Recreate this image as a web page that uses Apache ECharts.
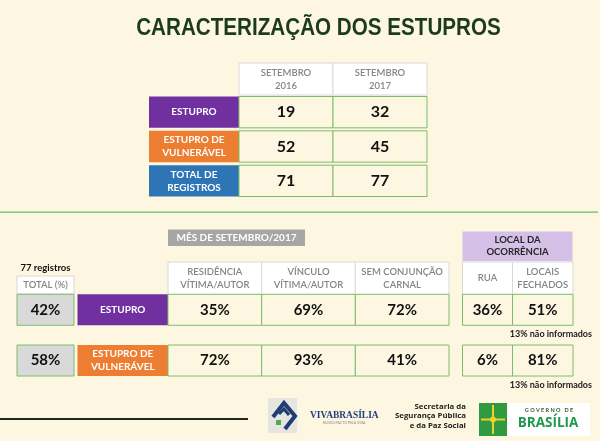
<!DOCTYPE html>
<html><head><meta charset="utf-8">
<script src="https://cdn.jsdelivr.net/npm/echarts@6/dist/echarts.min.js"></script>
<style>html,body{margin:0;padding:0;background:#fdf6e1}#c{width:600px;height:441px}</style>
</head><body><div id="c"></div>
<script>
// ---------- data ----------
const chartTitle = 'CARACTERIZAÇÃO DOS ESTUPROS';
const periodLabels = ['SETEMBRO\n2016', 'SETEMBRO\n2017'];
const crimeTypes = ['ESTUPRO', 'ESTUPRO DE\nVULNERÁVEL'];
const totalRowLabel = 'TOTAL DE\nREGISTROS';
const sep2016 = [19, 52, 71];
const sep2017 = [32, 45, 77];
const monthLabel = 'MÊS DE SETEMBRO/2017';
const totalRecords = 77;
const totalHeader = 'TOTAL (%)';
const totalShare = [42, 58];
const contextLabels = ['RESIDÊNCIA\nVÍTIMA/AUTOR', 'VÍNCULO\nVÍTIMA/AUTOR', 'SEM CONJUNÇÃO\nCARNAL'];
const residencia = [35, 72];
const vinculo = [69, 93];
const semConjuncao = [72, 41];
const localLabel = 'LOCAL DA\nOCORRÊNCIA';
const placeLabels = ['RUA', 'LOCAIS\nFECHADOS'];
const rua = [36, 6];
const locaisFechados = [51, 81];
const naoInformados = [13, 13];

// ---------- styles ----------
const BG = '#fdf6e1';
const GREEN = '#7dbd6a';
const rowColors = ['#7030a0', '#ed7d31', '#2e75b6'];
const FONT = 'Lato, "Open Sans", sans-serif';

const headStyle = {fill: '#ffffff', stroke: '#d9d9d9', color: '#858585', font: '600 9.5px ' + FONT, lh: 13, gapX: 0, gapY: 0};
const labelStyle = {fill: rowColors, stroke: null, color: '#ffffff', font: 'bold 10px ' + FONT, lh: 13, gapX: 0, gapY: 3};
const valueStyle = {fill: BG, stroke: GREEN, color: '#111111', font: 'bold 16px ' + FONT, lh: 18, gapX: 0, gapY: 3};

const grids = [], xAxes = [], yAxes = [], series = [];

function makeRender(st, texts) {
  return function (params, api) {
    const r = api.value(1);
    const p = api.coord([api.value(0), r]);
    const s = api.size([1, 1]);
    const w = s[0] - st.gapX, h = s[1] - st.gapY;
    const x = p[0] - w / 2, y = p[1] - h / 2;
    const fill = Array.isArray(st.fill) ? st.fill[r] : st.fill;
    const children = [
      {type: 'rect', shape: {x: x, y: y, width: w, height: h},
        style: {fill: fill, stroke: st.stroke || null, lineWidth: st.stroke ? 1 : 0}},
      {type: 'text', style: {text: String(texts[params.dataIndex]), x: p[0], y: p[1],
        align: 'center', verticalAlign: 'middle', textAlign: 'center', textVerticalAlign: 'middle',
        font: st.font, fill: st.color, lineHeight: st.lh}}
    ];
    if (st.note) {
      children.push({type: 'text', style: {text: st.note[params.dataIndex], x: x + w + 19, y: y + h + 9,
        align: 'right', verticalAlign: 'middle', textAlign: 'right', textVerticalAlign: 'middle',
        font: 'bold 9px ' + FONT, fill: '#222222'}});
    }
    return {type: 'group', children: children};
  };
}

function table(box, cols, rows, cells, st) {
  const gi = grids.length;
  grids.push({left: box[0], top: box[1], width: box[2], height: box[3], containLabel: false, show: false});
  xAxes.push({type: 'category', gridIndex: gi, data: cols, show: false});
  yAxes.push({type: 'category', gridIndex: gi, data: rows, inverse: true, show: false});
  series.push({type: 'custom', xAxisIndex: gi, yAxisIndex: gi, silent: true, clip: false,
    data: cells.map(c => [c[0], c[1]]), renderItem: makeRender(st, cells.map(c => c[2]))});
}

// ---------- top table ----------
const topRows = crimeTypes.concat([totalRowLabel]);
table([239, 63, 188, 32], periodLabels, ['h'], periodLabels.map((t, i) => [i, 0, t]), headStyle);
table([149, 95, 90, 103], ['l'], topRows, topRows.map((t, i) => [0, i, t]), labelStyle);
const topCells = [];
topRows.forEach((_, r) => { topCells.push([0, r, sep2016[r]]); topCells.push([1, r, sep2017[r]]); });
table([239, 95, 188, 103], periodLabels, topRows, topCells, valueStyle);

// ---------- bottom table ----------
const bTop = 284.4, bH = 101.5, bGap = 19.75;
const pct = v => v + '%';
table([17, 276, 57, 18], [totalHeader], ['h'], [[0, 0, totalHeader]], headStyle);
table([17, bTop, 57, bH], ['t'], crimeTypes, crimeTypes.map((_, i) => [0, i, pct(totalShare[i])]),
  Object.assign({}, valueStyle, {fill: '#d9d9d9', font: 'bold 15px ' + FONT, gapY: bGap}));
table([77.5, bTop, 90.5, bH], ['l'], crimeTypes, crimeTypes.map((t, i) => [0, i, t]),
  Object.assign({}, labelStyle, {gapY: bGap}));
table([168, 262, 281, 32.5], contextLabels, ['h'], contextLabels.map((t, i) => [i, 0, t]), headStyle);
const ctxCols = [residencia, vinculo, semConjuncao];
const ctxCells = [];
crimeTypes.forEach((_, r) => ctxCols.forEach((col, c) => ctxCells.push([c, r, pct(col[r])])));
table([168, bTop, 281, bH], contextLabels, crimeTypes, ctxCells,
  Object.assign({}, valueStyle, {font: 'bold 15px ' + FONT, gapY: bGap}));

table([462.5, 231.5, 110, 29.5], [localLabel], ['h'], [[0, 0, localLabel]],
  Object.assign({}, headStyle, {fill: '#d5c0e7', stroke: null, color: '#262626', font: 'bold 9.5px ' + FONT, lh: 12}));
table([462.5, 262, 50, 32.5], [placeLabels[0]], ['h'], [[0, 0, placeLabels[0]]], headStyle);
table([512.5, 262, 60.5, 32.5], [placeLabels[1]], ['h'], [[0, 0, placeLabels[1]]], headStyle);
table([462.5, bTop, 50, bH], [placeLabels[0]], crimeTypes, crimeTypes.map((_, i) => [0, i, pct(rua[i])]),
  Object.assign({}, valueStyle, {font: 'bold 15px ' + FONT, gapY: bGap}));
table([512.5, bTop, 60.5, bH], [placeLabels[1]], crimeTypes, crimeTypes.map((_, i) => [0, i, pct(locaisFechados[i])]),
  Object.assign({}, valueStyle, {font: 'bold 15px ' + FONT, gapY: bGap,
    note: naoInformados.map(v => v + '% não informados')}));

// ---------- decorations ----------
const graphic = [
  {type: 'text', x: 318.5, y: 28, scaleX: 0.86, style: {text: chartTitle, x: 0, y: 0, align: 'center', verticalAlign: 'middle',
    textAlign: 'center', textVerticalAlign: 'middle', font: 'bold 24px "Liberation Sans", Arial, sans-serif', fill: '#1b3b1f'}},
  {type: 'rect', shape: {x: 0, y: 211.5, width: 598, height: 1.2}, style: {fill: '#6cb868'}},
  {type: 'rect', shape: {x: 168, y: 229.5, width: 137, height: 16.5}, style: {fill: '#a6a6a6'}},
  {type: 'text', style: {text: monthLabel, x: 236.5, y: 238, align: 'center', verticalAlign: 'middle',
    textAlign: 'center', textVerticalAlign: 'middle', font: 'bold 10px ' + FONT, fill: '#ffffff'}},
  {type: 'text', style: {text: totalRecords + ' registros', x: 45.5, y: 268, align: 'center', verticalAlign: 'middle',
    textAlign: 'center', textVerticalAlign: 'middle', font: 'bold 9.5px ' + FONT, fill: '#111111'}},
  {type: 'rect', shape: {x: 0, y: 418, width: 248, height: 2}, style: {fill: '#1f2a1f'}},
  // Viva Brasilia logo
  {type: 'rect', shape: {x: 268, y: 398, width: 29, height: 35}, style: {fill: '#e7e5df'}},
  {type: 'polyline', shape: {points: [[273, 417], [284, 403], [295, 416], [285, 429]]}, style: {stroke: '#1f3d73', lineWidth: 4, fill: null}},
  {type: 'polyline', shape: {points: [[279, 414], [284, 409], [289, 415]]}, style: {stroke: '#1f3d73', lineWidth: 3, fill: null}},
  {type: 'rect', shape: {x: 276, y: 420, width: 5, height: 5}, style: {fill: '#4caf50'}},
  {type: 'text', x: 310, y: 415, scaleX: 0.86, style: {text: 'VIVABRASÍLIA', x: 0, y: 0, align: 'left', verticalAlign: 'middle',
    textAlign: 'left', textVerticalAlign: 'middle', font: 'bold 11px "Liberation Serif", serif', fill: '#24407a'}},
  {type: 'text', style: {text: 'NOSSO PACTO PELA VIDA', x: 344, y: 423, align: 'center', verticalAlign: 'middle',
    textAlign: 'center', textVerticalAlign: 'middle', font: 'normal 3.5px ' + FONT, fill: '#8a8a8a'}},
  // Secretaria
  {type: 'text', style: {text: 'Secretaria da\nSegurança Pública\ne da Paz Social', x: 466, y: 416, align: 'right', verticalAlign: 'middle',
    textAlign: 'right', textVerticalAlign: 'middle', font: 'bold 7.8px "Open Sans", sans-serif', lineHeight: 9.3, fill: '#222222'}},
  // Governo de Brasilia
  {type: 'rect', shape: {x: 479, y: 403, width: 28, height: 33}, style: {fill: '#2f9a3f'}},
  {type: 'rect', shape: {x: 492, y: 405, width: 2, height: 29}, style: {fill: '#f0d02c'}},
  {type: 'rect', shape: {x: 481, y: 418.5, width: 24, height: 2}, style: {fill: '#f0d02c'}},
  {type: 'circle', shape: {cx: 493, cy: 419.5, r: 3}, style: {fill: '#f0d02c'}},
  {type: 'rect', shape: {x: 508, y: 403, width: 82, height: 33}, style: {fill: '#ffffff'}},
  {type: 'text', style: {text: 'G O V E R N O   D E', x: 549, y: 410.5, align: 'center', verticalAlign: 'middle',
    textAlign: 'center', textVerticalAlign: 'middle', font: 'bold 5.5px ' + FONT, fill: '#2a5a35'}},
  {type: 'text', style: {text: 'BRASÍLIA', x: 548, y: 423.5, align: 'center', verticalAlign: 'middle',
    textAlign: 'center', textVerticalAlign: 'middle', font: 'bold 13.5px "Open Sans", sans-serif', fill: '#1f9a4c'}}
];

const chart = echarts.init(document.getElementById('c'), null, {renderer: 'canvas'});
chart.setOption({
  backgroundColor: BG,
  animation: false,
  grid: grids,
  xAxis: xAxes,
  yAxis: yAxes,
  series: series,
  graphic: graphic
});
</script></body></html>
